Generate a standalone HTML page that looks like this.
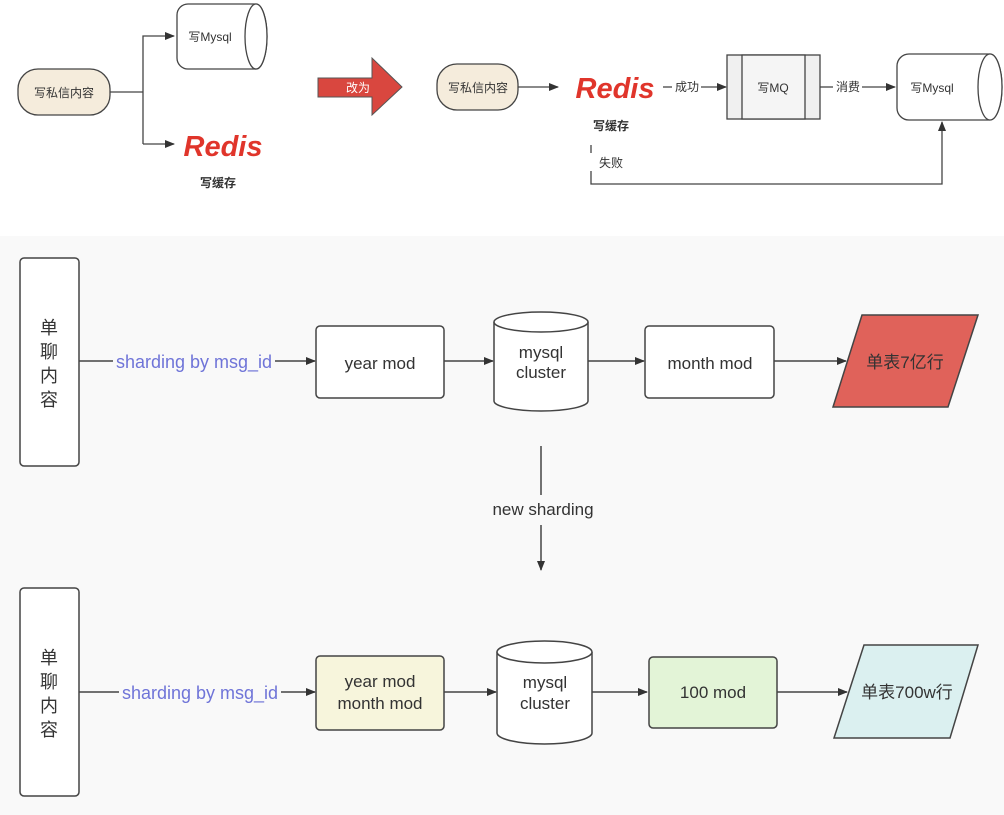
<!DOCTYPE html>
<html><head><meta charset="utf-8"><style>
html,body{margin:0;padding:0;background:#fff;}
svg{display:block;}
text{font-family:"Liberation Sans","Noto Sans CJK SC",sans-serif;fill:#333;}
</style></head><body>
<svg width="1004" height="815" viewBox="0 0 1004 815" xmlns="http://www.w3.org/2000/svg">
<defs>
<marker id="a" markerWidth="10" markerHeight="10" refX="9" refY="5" orient="auto" markerUnits="userSpaceOnUse">
<path d="M0,1 L10,5 L0,9 Z" fill="#333"/></marker>
</defs>
<rect x="0" y="236" width="1004" height="579" fill="#f9f9f9"/>

<!-- top left -->
<rect x="18" y="69" width="92" height="46" rx="20" fill="#f5ecdc" stroke="#444" stroke-width="1.3"/>
<text x="64" y="97" font-size="12" text-anchor="middle">写私信内容</text>
<polyline points="110,92 143,92" fill="none" stroke="#444" stroke-width="1.3"/>
<polyline points="143,144 143,36 174,36" fill="none" stroke="#444" stroke-width="1.3" marker-end="url(#a)"/>
<polyline points="143,144 174,144" fill="none" stroke="#444" stroke-width="1.3" marker-end="url(#a)"/>
<path d="M188,4 L256,4 A11,32.5 0 0 1 256,69 L188,69 A11,11 0 0 1 177,58 L177,15 A11,11 0 0 1 188,4 Z" fill="#fff" stroke="#444" stroke-width="1.3"/>
<ellipse cx="256" cy="36.5" rx="11" ry="32.5" fill="#fff" stroke="#444" stroke-width="1.3"/>
<text x="210" y="41" font-size="12" text-anchor="middle">写Mysql</text>
<text x="223" y="156" font-size="29" font-weight="bold" font-style="italic" text-anchor="middle" style="fill:#e0352b;font-family:'Liberation Sans',sans-serif">Redis</text>
<text x="218" y="187" font-size="12" font-weight="bold" text-anchor="middle">写缓存</text>

<!-- red arrow -->
<path d="M318,78 L372,78 L372,58 L402,87 L372,115 L372,97 L318,97 Z" fill="#d9473f" stroke="#555" stroke-width="1"/>
<text x="358" y="92" font-size="12" text-anchor="middle" style="fill:#fff">改为</text>

<!-- top right -->
<rect x="437" y="64" width="81" height="46" rx="20" fill="#f5ecdc" stroke="#444" stroke-width="1.3"/>
<text x="478" y="92" font-size="12" text-anchor="middle">写私信内容</text>
<line x1="518" y1="87" x2="558" y2="87" stroke="#444" stroke-width="1.3" marker-end="url(#a)"/>
<text x="615" y="98" font-size="29" font-weight="bold" font-style="italic" text-anchor="middle" style="fill:#e0352b;font-family:'Liberation Sans',sans-serif">Redis</text>
<text x="611" y="130" font-size="12" font-weight="bold" text-anchor="middle">写缓存</text>
<line x1="663" y1="87" x2="672" y2="87" stroke="#444" stroke-width="1.3"/>
<text x="687" y="91" font-size="12" text-anchor="middle">成功</text>
<line x1="701" y1="87" x2="726" y2="87" stroke="#444" stroke-width="1.3" marker-end="url(#a)"/>
<rect x="727" y="55" width="93" height="64" fill="#f0f0f0" stroke="#444" stroke-width="1.3"/>
<rect x="742" y="55" width="63" height="64" fill="#f5f5f5" stroke="#444" stroke-width="1.3"/>
<text x="773" y="92" font-size="12" text-anchor="middle">写MQ</text>
<line x1="820" y1="87" x2="833" y2="87" stroke="#444" stroke-width="1.3"/>
<text x="848" y="91" font-size="12" text-anchor="middle">消费</text>
<line x1="862" y1="87" x2="895" y2="87" stroke="#444" stroke-width="1.3" marker-end="url(#a)"/>
<path d="M909,54 L990,54 A12,33 0 0 1 990,120 L909,120 A12,12 0 0 1 897,108 L897,66 A12,12 0 0 1 909,54 Z" fill="#fff" stroke="#444" stroke-width="1.3"/>
<ellipse cx="990" cy="87" rx="12" ry="33" fill="#fff" stroke="#444" stroke-width="1.3"/>
<text x="932" y="92" font-size="12" text-anchor="middle">写Mysql</text>
<line x1="591" y1="145" x2="591" y2="153" stroke="#444" stroke-width="1.3"/>
<text x="611" y="167" font-size="12" text-anchor="middle">失败</text>
<polyline points="591,171 591,184 942,184 942,122" fill="none" stroke="#444" stroke-width="1.3" marker-end="url(#a)"/>

<!-- bottom 1 -->
<rect x="20" y="258" width="59" height="208" rx="4" fill="#fff" stroke="#444" stroke-width="1.5"/>
<g font-size="18" text-anchor="middle"><text x="49" y="334">单</text><text x="49" y="358">聊</text><text x="49" y="382">内</text><text x="49" y="406">容</text></g>
<line x1="79" y1="361" x2="113" y2="361" stroke="#444" stroke-width="1.5"/>
<text x="194" y="368" font-size="18" text-anchor="middle" style="fill:#6f74d8">sharding by msg_id</text>
<line x1="275" y1="361" x2="315" y2="361" stroke="#444" stroke-width="1.5" marker-end="url(#a)"/>
<rect x="316" y="326" width="128" height="72" rx="4" fill="#fff" stroke="#444" stroke-width="1.5"/>
<text x="380" y="369" font-size="17" text-anchor="middle">year mod</text>
<line x1="444" y1="361" x2="493" y2="361" stroke="#444" stroke-width="1.5" marker-end="url(#a)"/>
<path d="M494,322 L494,401 A47,10 0 0 0 588,401 L588,322" fill="#fff" stroke="#444" stroke-width="1.5"/>
<ellipse cx="541" cy="322" rx="47" ry="10" fill="#fff" stroke="#444" stroke-width="1.5"/>
<text x="541" y="358" font-size="17" text-anchor="middle">mysql</text>
<text x="541" y="378" font-size="17" text-anchor="middle">cluster</text>
<line x1="588" y1="361" x2="644" y2="361" stroke="#444" stroke-width="1.5" marker-end="url(#a)"/>
<rect x="645" y="326" width="129" height="72" rx="4" fill="#fff" stroke="#444" stroke-width="1.5"/>
<text x="710" y="369" font-size="17" text-anchor="middle">month mod</text>
<line x1="774" y1="361" x2="846" y2="361" stroke="#444" stroke-width="1.5" marker-end="url(#a)"/>
<polygon points="862,315 978,315 948,407 833,407" fill="#e0625a" stroke="#444" stroke-width="1.5"/>
<text x="905" y="368" font-size="17" text-anchor="middle">单表7亿行</text>

<line x1="541" y1="446" x2="541" y2="495" stroke="#444" stroke-width="1.5"/>
<text x="543" y="515" font-size="17" text-anchor="middle">new sharding</text>
<line x1="541" y1="525" x2="541" y2="570" stroke="#444" stroke-width="1.5" marker-end="url(#a)"/>

<!-- bottom 2 -->
<rect x="20" y="588" width="59" height="208" rx="4" fill="#fff" stroke="#444" stroke-width="1.5"/>
<g font-size="18" text-anchor="middle"><text x="49" y="664">单</text><text x="49" y="688">聊</text><text x="49" y="712">内</text><text x="49" y="736">容</text></g>
<line x1="79" y1="692" x2="119" y2="692" stroke="#444" stroke-width="1.5"/>
<text x="200" y="699" font-size="18" text-anchor="middle" style="fill:#6f74d8">sharding by msg_id</text>
<line x1="281" y1="692" x2="315" y2="692" stroke="#444" stroke-width="1.5" marker-end="url(#a)"/>
<rect x="316" y="656" width="128" height="74" rx="4" fill="#f7f5dc" stroke="#444" stroke-width="1.5"/>
<text x="380" y="687" font-size="17" text-anchor="middle">year mod</text>
<text x="380" y="709" font-size="17" text-anchor="middle">month mod</text>
<line x1="444" y1="692" x2="496" y2="692" stroke="#444" stroke-width="1.5" marker-end="url(#a)"/>
<path d="M497,652 L497,733 A47.5,11 0 0 0 592,733 L592,652" fill="#fff" stroke="#444" stroke-width="1.5"/>
<ellipse cx="544.5" cy="652" rx="47.5" ry="11" fill="#fff" stroke="#444" stroke-width="1.5"/>
<text x="545" y="688" font-size="17" text-anchor="middle">mysql</text>
<text x="545" y="709" font-size="17" text-anchor="middle">cluster</text>
<line x1="592" y1="692" x2="647" y2="692" stroke="#444" stroke-width="1.5" marker-end="url(#a)"/>
<rect x="649" y="657" width="128" height="71" rx="4" fill="#e3f4d7" stroke="#444" stroke-width="1.5"/>
<text x="713" y="698" font-size="17" text-anchor="middle">100 mod</text>
<line x1="777" y1="692" x2="847" y2="692" stroke="#444" stroke-width="1.5" marker-end="url(#a)"/>
<polygon points="864,645 978,645 950,738 834,738" fill="#dbf0f0" stroke="#444" stroke-width="1.5"/>
<text x="907" y="698" font-size="17" text-anchor="middle">单表700w行</text>
</svg>
</body></html>
